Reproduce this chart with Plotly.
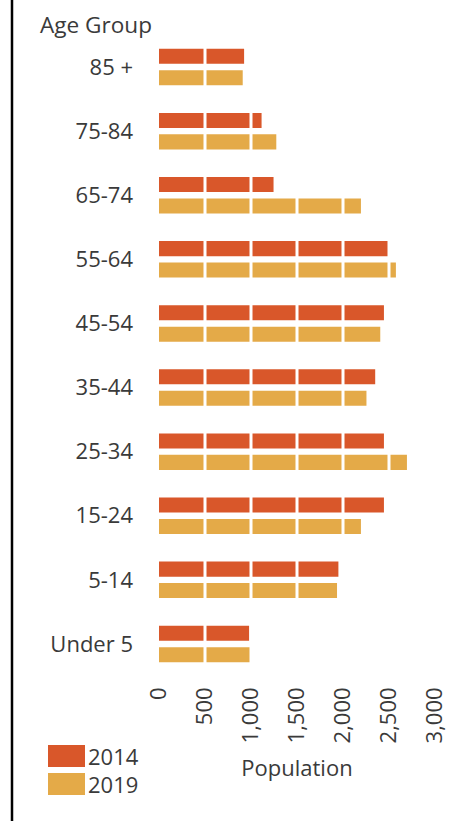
import plotly.graph_objects as go

# Population by age group, 2014 vs 2019
age_groups = ["85 +", "75-84", "65-74", "55-64", "45-54", "35-44",
              "25-34", "15-24", "5-14", "Under 5"]
pop_2014 = [925, 1115, 1245, 2490, 2445, 2350, 2445, 2445, 1950, 980]
pop_2019 = [910, 1275, 2195, 2575, 2405, 2255, 2695, 2195, 1935, 1010]
years = ["2014", "2019"]
colors = ["#D9572A", "#E4AA48"]
x_ticks = [0, 500, 1000, 1500, 2000, 2500, 3000]
x_tick_text = ["0", "500", "1,000", "1,500", "2,000", "2,500", "3,000"]

W, H = 472, 821
ML, MR, MT, MB = 159, 37, 35, 145
PW, PH = W - ML - MR, H - MT - MB


def px_x(p):
    return (p - ML) / PW


def px_y(p):
    return 1 - (p - MT) / PH


FONT = "Open Sans"
TXT = "#3a3a3a"

fig = go.Figure()
for name, vals, col in zip(years, [pop_2014, pop_2019], colors):
    fig.add_trace(go.Bar(
        y=age_groups, x=vals, name=name, orientation="h",
        marker=dict(color=col, line=dict(width=0)),
        showlegend=False,
    ))

# white separators every 500 drawn across the bars
for t in x_ticks[1:-1]:
    fig.add_shape(type="line", xref="x", yref="paper", x0=t, x1=t, y0=0, y1=1,
                  line=dict(color="white", width=3), layer="above")

# left frame edge
fig.add_shape(type="line", xref="paper", yref="paper",
              x0=px_x(12), x1=px_x(12), y0=px_y(-5), y1=px_y(H + 5),
              line=dict(color="black", width=2.5))

# legend swatches and labels
for i, (name, col) in enumerate(zip(years, colors)):
    top = 745 + i * 28
    fig.add_shape(type="rect", xref="paper", yref="paper",
                  x0=px_x(48), x1=px_x(85), y0=px_y(top + 22), y1=px_y(top),
                  fillcolor=col, line=dict(width=0))
    fig.add_annotation(text=name, xref="paper", yref="paper",
                       x=px_x(86), y=px_y(top + 11), xanchor="left", yanchor="middle",
                       showarrow=False, font=dict(family=FONT, size=22, color=TXT))

fig.add_annotation(text="Age Group", xref="paper", yref="paper",
                   x=px_x(38), y=px_y(25), xanchor="left", yanchor="middle",
                   showarrow=False, font=dict(family=FONT, size=22.6, color=TXT))

fig.update_layout(
    width=W, height=H,
    margin=dict(l=ML, r=MR, t=MT, b=MB),
    paper_bgcolor="white", plot_bgcolor="white",
    barmode="group", bargap=0.33, bargroupgap=0.3,
    font=dict(family=FONT, size=22, color=TXT),
    xaxis=dict(range=[0, 3000], tickvals=x_ticks, ticktext=x_tick_text,
               tickangle=-90, showgrid=False, zeroline=False, showline=False,
               ticks="", ticklabelstandoff=6,
               title=dict(text="Population", standoff=18,
                          font=dict(family=FONT, size=22, color=TXT))),
    yaxis=dict(categoryorder="array", categoryarray=age_groups,
               autorange="reversed", showgrid=False, zeroline=False,
               showline=False, ticks="", ticklabelstandoff=25),
)

fig.write_html("out.html")
